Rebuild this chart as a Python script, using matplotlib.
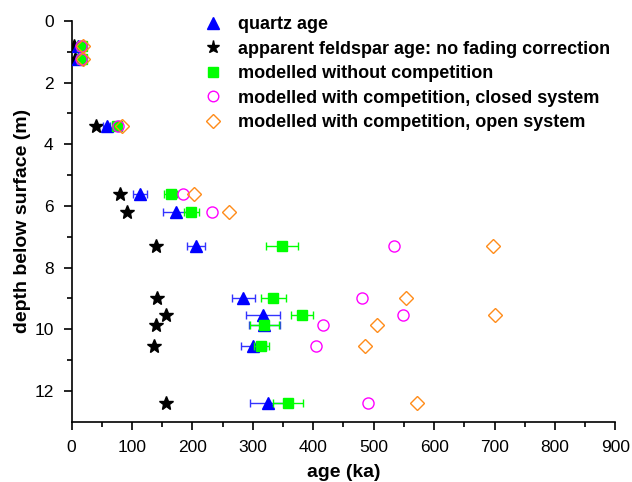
import numpy as np
import matplotlib
matplotlib.use("Agg")
import matplotlib.pyplot as plt

plt.rcParams['font.family'] = ['Liberation Sans', 'DejaVu Sans']

# depth of each sample (m)
depth = [0.8, 1.25, 3.4, 5.6, 6.2, 7.3, 9.0, 9.55, 9.85, 10.55, 12.4]

# ages (ka)
quartz = [10, 10, 58, 113, 172, 206, 284, 317, 319, 301, 325]
quartz_err = [3, 3, 6, 11, 20, 15, 19, 28, 26, 20, 30]
feldspar = [4, 5, 40, 80, 92, 139, 142, 156, 139, 137, 156]
no_comp = [17, 17, 75, 164, 198, 348, 334, 381, 319, 314, 358]
no_comp_err = [3, 3, 5, 11, 12, 26, 21, 18, 24, 12, 25]
closed_sys = [15, 15, 77, 184, 233, 533, 480, 549, 416, 404, 491]
open_sys = [18, 18, 83, 203, 261, 698, 553, 701, 505, 486, 571]

labels = ["quartz age",
          "apparent feldspar age: no fading correction",
          "modelled without competition",
          "modelled with competition, closed system",
          "modelled with competition, open system"]

fig = plt.figure(figsize=(6.32, 4.82), dpi=100)
ax = fig.add_axes([0.1134, 0.1251, 0.8602, 0.8315])

h_feld, = ax.plot(feldspar, depth, ls='none', marker='*', ms=10, color='black', zorder=2)
ax.errorbar(quartz, depth, xerr=quartz_err, fmt='none', ecolor='#3333ff',
            elinewidth=1, capsize=3, capthick=1, zorder=3)
h_q, = ax.plot(quartz, depth, ls='none', marker='^', ms=9, color='#0000ff', zorder=3)
ax.errorbar(no_comp, depth, xerr=no_comp_err, fmt='none', ecolor='#00ff00',
            elinewidth=1, capsize=3, capthick=1, zorder=4)
h_nc, = ax.plot(no_comp, depth, ls='none', marker='s', ms=7, color='#00ff00', zorder=4)
h_cl, = ax.plot(closed_sys, depth, ls='none', marker='o', ms=8, mfc='none',
                mec='#ff00ff', mew=1, zorder=5)
h_op, = ax.plot(open_sys, depth, ls='none', marker='D', ms=7, mfc='none',
                mec='#ff8c1a', mew=1, zorder=6)

ax.set_xlim(0, 900)
ax.set_ylim(13, 0)
ax.set_xticks(np.arange(0, 901, 100))
ax.set_xticks(np.arange(0, 901, 50), minor=True)
ax.set_yticks(np.arange(0, 13, 2))
ax.set_yticks(np.arange(0, 13, 1), minor=True)

for s in ['top', 'right']:
    ax.spines[s].set_visible(False)
for s in ['left', 'bottom']:
    ax.spines[s].set_linewidth(1.2)
ax.tick_params(which='major', direction='out', length=6, width=1.2,
               labelsize=12.5, pad=7)
ax.tick_params(which='minor', direction='out', length=3.5, width=1.2)

ax.set_xlabel("age (ka)", fontsize=14, fontweight='bold', labelpad=7)
ax.set_ylabel("depth below surface (m)", fontsize=14, fontweight='bold', labelpad=2)

ax.legend([h_q, h_feld, h_nc, h_cl, h_op], labels, loc='upper left',
          bbox_to_anchor=(0.197, 1.052), frameon=False,
          prop={'weight': 'bold', 'size': 13}, labelspacing=0.41,
          handletextpad=0.4, markerscale=0.95)

fig.savefig("out.png", dpi=100)
